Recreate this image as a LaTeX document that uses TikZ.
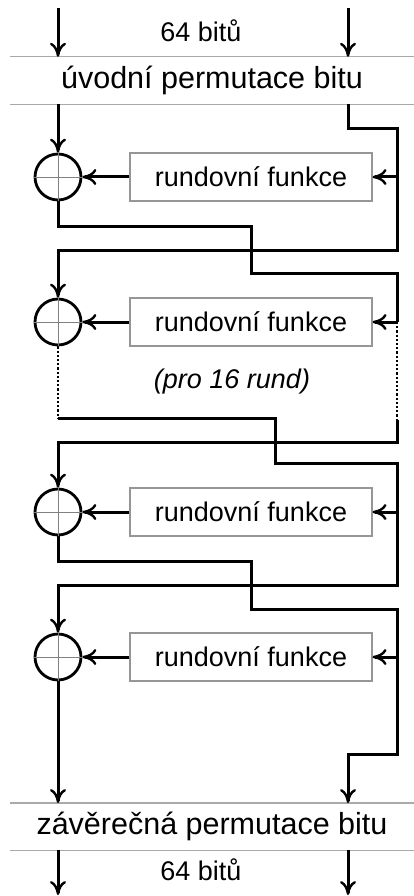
\documentclass[tikz,border=0pt]{standalone}
\usepackage{fontspec}
\setmainfont{Liberation Sans}
\usepackage{tikz}
\usetikzlibrary{positioning,arrows.meta}
\definecolor{sepgray}{RGB}{170, 170, 170}
\definecolor{boxgray}{RGB}{150, 150, 150}

\begin{document}
\begin{tikzpicture}[
    x=1pt, y=-1pt,
    wire/.style={line width=3pt},
    arrow/.style={wire, -{Computer Modern Rightarrow[length=14pt, width=16pt, line width=2.4pt]}},
    dots/.style={line width=2.2pt, dotted},
    xorsym/.style={
        circle, draw, line width=2.8pt,
        minimum size=46pt, inner sep=0pt
    },
    roundbox/.style={
        rectangle, draw=boxgray, line width=1.1pt,
        minimum width=242pt, minimum height=48pt,
        font=\fontsize{27}{32}\selectfont
    },
    perm/.style={
        minimum width=404pt, minimum height=47pt, inner sep=0pt,
        font=\fontsize{30.5}{36}\selectfont
    },
    bits/.style={font=\fontsize{27}{32}\selectfont},
    sepline/.style={draw=sepgray, line width=1.3pt},
    cross/.style={draw=gray, line width=0.9pt}
]
    \useasboundingbox (0,0) rectangle (414,896);

    % permutations
    \node[perm] (ip) at (212,80.5) {úvodní permutace bitu};
    \node[perm] (fp) at (212,826.7) {závěrečná permutace bitu};
    \draw[sepline] (ip.north west) -- (ip.north east);
    \draw[sepline] (ip.south west) -- (ip.south east);
    \draw[sepline] (fp.north west) -- (fp.north east);
    \draw[sepline] (fp.south west) -- (fp.south east);

    \node[bits] (inbits) at (201,31) {64 bitů};
    \node[bits] (outbits) at (201,870) {64 bitů};

    % rounds
    \node[xorsym] (x1) at (58,177) {};
    \node[xorsym] (x2) at (58,322) {};
    \node[xorsym] (x3) at (58,512) {};
    \node[xorsym] (x4) at (58,657) {};
    \node[roundbox] (f1) at (251,177) {rundovní funkce};
    \node[roundbox] (f2) at (251,322) {rundovní funkce};
    \node[roundbox] (f3) at (251,512) {rundovní funkce};
    \node[roundbox] (f4) at (251,657) {rundovní funkce};
    \foreach \n in {x1,x2,x3,x4} {
        \draw[cross] (\n.north) -- (\n.south);
        \draw[cross] (\n.west) -- (\n.east);
    }
    \node[bits, font=\fontsize{27}{32}\selectfont\itshape] (note) at (232,382) {(pro 16 rund)};

    \coordinate (inL) at (58,8);
    \coordinate (inR) at (348,8);
    \coordinate (outL) at (58,895);
    \coordinate (outR) at (348,895);
    \coordinate (t1) at (397,177);
    \coordinate (t2) at (397,322);
    \coordinate (t3) at (397,512);
    \coordinate (t4) at (397,657);
    \coordinate (d1) at (58,418);
    \coordinate (d2) at (397,420);

    % inputs
    \draw[arrow] (inL) -- (ip.north -| inL);
    \draw[arrow] (inR) -- (ip.north -| inR);
    \draw[arrow] (ip.south -| x1) -- (x1.north);

    % round 1
    \draw[wire] (ip.south -| inR) -- (348,129) -- (397,129) -- (t1);
    \draw[arrow] (t1) -- (397,250) -- (58,250) -- (x2.north);
    \draw[arrow] (t1) -- (f1.east);
    \draw[arrow] (f1.west) -- (x1.east);
    \draw[wire] (x1.south) -- (58,226) -- (251,226) -- (251,273) -- (397,273) -- (t2);

    % round 2
    \draw[arrow] (t2) -- (f2.east);
    \draw[arrow] (f2.west) -- (x2.east);
    \draw[dots] (x2.south) -- (d1);
    \draw[dots] (t2) -- (d2);
    \draw[wire] (d1) -- (275,418) -- (275,463) -- (397,463) -- (t3);
    \draw[arrow] (d2) -- (397,442) -- (58,442) -- (x3.north);

    % round 3
    \draw[arrow] (t3) -- (f3.east);
    \draw[arrow] (f3.west) -- (x3.east);
    \draw[arrow] (t3) -- (397,585) -- (58,585) -- (x4.north);
    \draw[wire] (x3.south) -- (58,561) -- (251,561) -- (251,609) -- (397,609) -- (t4);

    % round 4
    \draw[arrow] (t4) -- (f4.east);
    \draw[arrow] (f4.west) -- (x4.east);
    \draw[arrow] (x4.south) -- (fp.north -| x4);
    \draw[arrow] (t4) -- (397,754) -- (348,754) -- (fp.north -| outR);

    % outputs
    \draw[arrow] (fp.south -| outL) -- (outL);
    \draw[arrow] (fp.south -| outR) -- (outR);
\end{tikzpicture}
\end{document}
